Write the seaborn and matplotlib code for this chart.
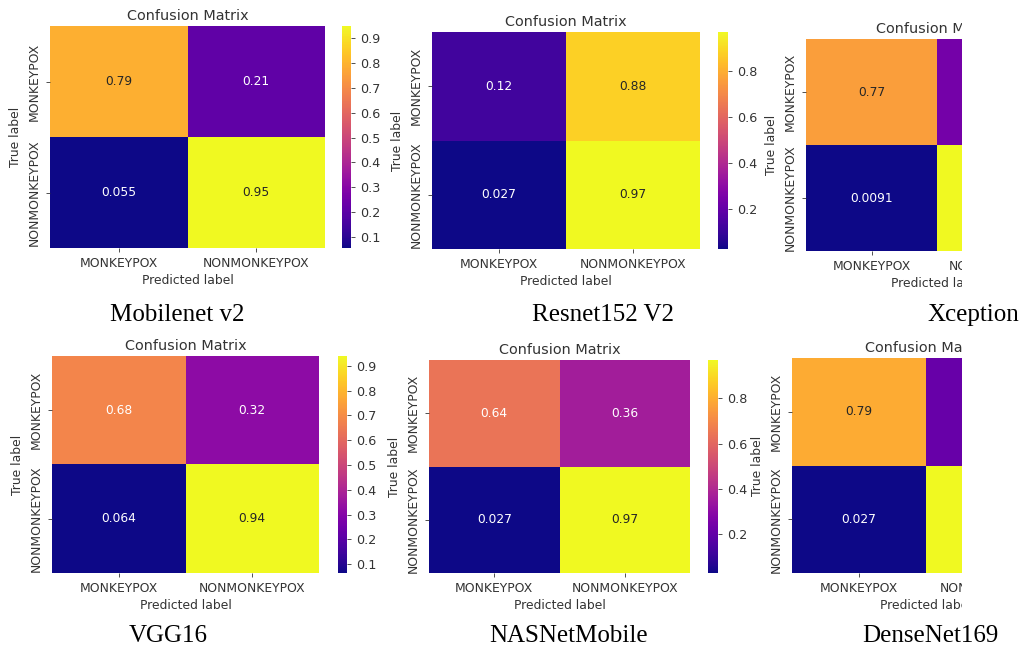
import matplotlib
matplotlib.use("Agg")
import matplotlib.pyplot as plt
from matplotlib.patches import Rectangle
import numpy as np
import pandas as pd
import seaborn as sns

# ---------------- data ----------------
model_names = ["Mobilenet v2", "Resnet152 V2", "Xception",
               "VGG16", "NASNetMobile", "DenseNet169"]
class_labels = ["MONKEYPOX", "NONMONKEYPOX"]

mobilenet_cm = [[0.79, 0.21], [0.055, 0.95]]
resnet_cm = [[0.12, 0.88], [0.027, 0.97]]
xception_cm = [[0.77, 0.23], [0.0091, 0.99]]
vgg16_cm = [[0.68, 0.32], [0.064, 0.94]]
nasnet_cm = [[0.64, 0.36], [0.027, 0.97]]
densenet_cm = [[0.79, 0.21], [0.027, 0.97]]

cbar_ticks_fine = [0.1, 0.2, 0.3, 0.4, 0.5, 0.6, 0.7, 0.8, 0.9]
cbar_ticks_coarse = [0.2, 0.4, 0.6, 0.8]

matrices = [mobilenet_cm, resnet_cm, xception_cm, vgg16_cm, nasnet_cm, densenet_cm]
cbar_ticks = [cbar_ticks_fine, cbar_ticks_coarse, cbar_ticks_coarse,
              cbar_ticks_fine, cbar_ticks_coarse, cbar_ticks_coarse]

# ---------------- layout (pixels) ----------------
W, H = 1021, 650
# heatmap box (x0, x1, y0, y1) and colorbar (x0, x1)
hm_boxes = [(50, 325, 26, 248), (432, 700, 32, 249), (806, 1068, 39, 251),
            (52, 319, 356, 573), (429, 690, 360, 573), (792, 1060, 358, 573)]
cb_boxes = [(342, 351), (718, 728), (1086, 1096),
            (338, 347), (708, 718), (1078, 1088)]
caption_pos = [(177, 315), (603, 315), (973, 315),
               (168, 636), (569, 636), (930, 636)]

txt_color = "#333333"
plt.rcParams["text.color"] = txt_color
plt.rcParams["axes.labelcolor"] = txt_color
plt.rcParams["xtick.color"] = txt_color
plt.rcParams["ytick.color"] = txt_color
plt.rcParams["font.family"] = ["DejaVu Sans"]

fig = plt.figure(figsize=(W / 100, H / 100), dpi=100)


def fbox(x0, x1, y0, y1):
    return [x0 / W, 1 - y1 / H, (x1 - x0) / W, (y1 - y0) / H]


for i, cm in enumerate(matrices):
    hx0, hx1, hy0, hy1 = hm_boxes[i]
    cx0, cx1 = cb_boxes[i]
    ax = fig.add_axes(fbox(hx0, hx1, hy0, hy1))
    cax = fig.add_axes(fbox(cx0, cx1, hy0, hy1))
    df = pd.DataFrame(cm, index=class_labels, columns=class_labels)
    sns.heatmap(df, ax=ax, cbar_ax=cax, cmap="plasma", annot=True,
                annot_kws={"fontsize": 8.8},
                cbar_kws={"ticks": cbar_ticks[i]})
    ax.set_title("Confusion Matrix", fontsize=10.4, pad=4, color=txt_color)
    ax.set_xlabel("Predicted label", fontsize=8.9, labelpad=3)
    ax.set_ylabel("True label", fontsize=8.9)
    ax.tick_params(axis="both", labelsize=8.9, length=3, width=0.6)
    for t in ax.get_yticklabels():
        t.set_rotation(90)
        t.set_va("center")
    cax.tick_params(labelsize=9.2, length=3, width=0.6)

# crop of the third column, as in the reference composite
fig.add_artist(Rectangle((962 / W, 0), 1, 1, transform=fig.transFigure,
                         facecolor="white", edgecolor="none", zorder=5))

for name, (x, y) in zip(model_names, caption_pos):
    fig.text(x / W, 1 - y / H, name, ha="center", va="center",
             fontsize=18, family="Liberation Serif", color="black", zorder=6)

fig.savefig("out.png", dpi=100)
